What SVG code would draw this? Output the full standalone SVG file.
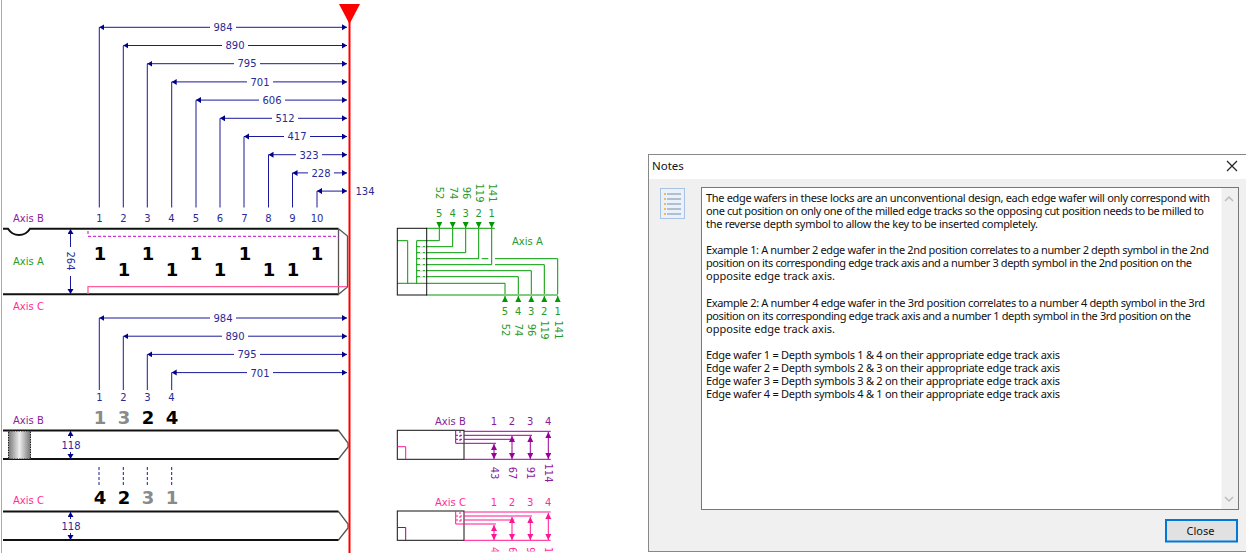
<svg xmlns="http://www.w3.org/2000/svg" width="1246" height="556" viewBox="0 0 1246 556">
<defs>
<marker id="an" markerWidth="7" markerHeight="7" refX="5" refY="3" orient="auto-start-reverse" markerUnits="userSpaceOnUse"><path d="M0 0L5 3L0 6Z" fill="#00008b"/></marker>
<marker id="ag" markerWidth="7" markerHeight="7" refX="6" refY="3" orient="auto-start-reverse" markerUnits="userSpaceOnUse"><path d="M0 0L6 3L0 6Z" fill="#009a00"/></marker>
<marker id="ap" markerWidth="7" markerHeight="7" refX="6" refY="3" orient="auto-start-reverse" markerUnits="userSpaceOnUse"><path d="M0 0L6 3L0 6Z" fill="#990099"/></marker>
<marker id="ak" markerWidth="7" markerHeight="7" refX="6" refY="3" orient="auto-start-reverse" markerUnits="userSpaceOnUse"><path d="M0 0L6 3L0 6Z" fill="#ff1493"/></marker>
<linearGradient id="g" x1="0" x2="1" y1="0" y2="0"><stop offset="0" stop-color="#777"/><stop offset=".5" stop-color="#eee"/><stop offset="1" stop-color="#777"/></linearGradient>
<clipPath id="cl"><rect x="480" y="540" width="90" height="11.5"/></clipPath>
</defs>
<style>
text{font-family:"DejaVu Sans",sans-serif;font-size:10px}
.c{text-anchor:middle}
.n{fill:#2a2a96}.gt{fill:#2a9a2a}.pt{fill:#8b1a9b}.kt{fill:#ff2d96}
.b text{font-weight:700;font-size:18px;text-anchor:middle;fill:#000}
.b text.y{fill:#8a8a8a}
.dn{stroke:#1a1a9b;stroke-width:1;fill:none}
.da{marker-start:url(#an);marker-end:url(#an)}
.k{fill:none;stroke:#111;stroke-width:2}
.ch{fill:none;stroke:#555;stroke-width:1.3}
.gl{stroke:#009a00;stroke-width:1;fill:none}
.pl{stroke:#990099;stroke-width:1;fill:none}
.kl{stroke:#ff1493;stroke-width:1;fill:none}
.bx{fill:none;stroke:#111;stroke-width:1}
.nt text{font-family:"Noto Sans",sans-serif;font-size:11px;fill:#111}
.ui{font-family:"Noto Sans",sans-serif;font-size:11.5px;fill:#111}
</style>
<rect width="1246" height="556" fill="#fff"/>
<line x1="1.5" y1="0" x2="1.5" y2="553" stroke="#aaa"/>

<g id="connectors">
<g class="dn">
<path d="M99.300 207.500V27.300M123.300 207.500V45.500M147.300 207.500V63.700M171.700 207.500V81.900M196 207.500V100.100M220 207.500V118.300M244 207.500V136.500M268.500 207.500V154.700M292.500 207.500V172.900M317 207.500V191.100"/>
<path class="da" d="M99.300 27.300H210M236 27.300H347"/>
<path class="da" d="M123.300 45.500H222M248 45.500H347"/>
<path class="da" d="M147.300 63.700H234M260 63.700H347"/>
<path class="da" d="M171.700 81.900H247M273 81.900H347"/>
<path class="da" d="M196 100.100H259M285 100.100H347"/>
<path class="da" d="M220 118.300H272M298 118.300H347"/>
<path class="da" d="M244 136.500H284M310 136.500H347"/>
<path class="da" d="M268.500 154.700H296M322 154.700H347"/>
<path class="da" d="M292.500 172.900H308M334 172.900H347"/>
<path class="da" d="M317 191.100H347"/>
<path d="M99.300 390V318M123.300 390V336.200M147.300 390V354.400M171.700 390V372.600"/>
<path class="da" d="M99.300 318H210M236 318H347"/>
<path class="da" d="M123.300 336.200H222M248 336.200H347"/>
<path class="da" d="M147.300 354.400H234M260 354.400H347"/>
<path class="da" d="M171.700 372.600H247M273 372.600H347"/>
<path stroke-dasharray="3 2" d="M99 467V486M123.300 467V486M147.300 467V486M171.700 467V486"/>
</g>
</g>

<g id="key-a">
<path class="k" d="M3 228.700H8Q12 235 19 235Q26 235 30 228.700H338.500M338.500 294.300H3"/>
<path class="ch" d="M338.500 228.700L347.500 236V287L338.500 294.300V228.700"/>
<path d="M88 236.300H339M88 231V236" stroke="#c800c8" stroke-dasharray="3 2" fill="none"/>
<path d="M88 294V286.700H347" stroke="#ff5c9c" stroke-width="1.300" fill="none"/>
<g class="dn"><path class="da" d="M70.500 229V247M70.500 276V294"/></g>
<text class="n c" transform="translate(67 261) rotate(90)">264</text>
<text x="13" y="222" class="pt">Axis B</text><text x="13" y="265" class="gt">Axis A</text><text x="13" y="310" class="kt">Axis C</text>
<g class="n c"><text x="99.500" y="222">1</text><text x="123.500" y="222">2</text><text x="147.500" y="222">3</text><text x="171.500" y="222">4</text><text x="196" y="222">5</text><text x="220" y="222">6</text><text x="244.500" y="222">7</text><text x="268.500" y="222">8</text><text x="292.500" y="222">9</text><text x="317" y="222">10</text></g>
<g class="b"><text x="100" y="260">1</text><text x="124" y="276">1</text><text x="148" y="260">1</text><text x="172" y="276">1</text><text x="196" y="260">1</text><text x="220" y="276">1</text><text x="245" y="260">1</text><text x="269" y="276">1</text><text x="293" y="276">1</text><text x="317" y="260">1</text></g>
</g>

<g id="dims-top" class="n c">
<text x="223" y="31">984</text><text x="235" y="49">890</text><text x="247" y="67">795</text><text x="260" y="85.500">701</text><text x="272" y="104">606</text><text x="285" y="122">512</text><text x="297" y="140">417</text><text x="309" y="158.500">323</text><text x="321" y="176.500">228</text><text x="365" y="195">134</text>
<text x="223" y="322">984</text><text x="235" y="340">890</text><text x="247" y="358">795</text><text x="260" y="376.500">701</text>
<text x="99.500" y="401">1</text><text x="123.500" y="401">2</text><text x="147.500" y="401">3</text><text x="171.500" y="401">4</text>
</g>

<g id="key-b">
<path class="ch" d="M338.500 430.500L348 443V447L338.500 459"/>
<path class="k" d="M3 430.500H338.500M3 459H338.500"/>
<rect x="8.500" y="431" width="22" height="28" fill="url(#g)" stroke="#222" stroke-dasharray="1.500 1"/>
<g class="dn"><path class="da" d="M70.500 431V438M70.500 452V459"/></g>
<text x="71" y="449" class="n c">118</text>
<text x="13" y="424" class="pt">Axis B</text>
<g class="b"><text x="100" y="423.500" class="y">1</text><text x="124" y="423.500" class="y">3</text><text x="148" y="423.500">2</text><text x="172" y="423.500">4</text></g>
</g>

<g id="key-c">
<path class="ch" d="M338.500 511.500L348 524V528L338.500 540"/>
<path class="k" d="M3 511.500H338.500M3 540H338.500"/>
<g class="dn"><path class="da" d="M70.500 512V519M70.500 533V540"/></g>
<text x="71" y="530" class="n c">118</text>
<text x="13" y="504" class="kt">Axis C</text>
<g class="b"><text x="100" y="504">4</text><text x="124" y="504">2</text><text x="148" y="504" class="y">3</text><text x="172" y="504" class="y">1</text></g>
</g>

<g id="datum">
<line x1="349.500" y1="20" x2="349.500" y2="553" stroke="#f00" stroke-width="2"/>
<path d="M339 4H360L349.500 24Z" fill="#f00"/>
</g>

<g id="section-a">
<path class="gl" d="M397 240.700H407.700V283.300M397 283.300H505V294M416.700 240.700V283.300"/>
<path class="gl" d="M426 228.300H494.700M426 295H558"/>
<path class="gl" d="M416.700 240.700H439.300V229M416.700 246.700H452.700V229M416.700 252.700H465.700V229M416.700 258.700H478.700V229M416.700 264.700H491.700V229M416.700 270.700H531.300V294M416.700 276.700H518.300V294"/>
<path class="gl" d="M481.700 258.700H488.300M495 258.700H557.700V294M495 264.700H544.300V294"/>
<g class="gl">
<path d="M439.300 222V228" marker-end="url(#ag)"/><path d="M452.700 222V228" marker-end="url(#ag)"/><path d="M465.700 222V228" marker-end="url(#ag)"/><path d="M478.700 222V228" marker-end="url(#ag)"/><path d="M491.700 222V228" marker-end="url(#ag)"/>
<path d="M505 302V296" marker-end="url(#ag)"/><path d="M518.300 302V296" marker-end="url(#ag)"/><path d="M531.300 302V296" marker-end="url(#ag)"/><path d="M544.300 302V296" marker-end="url(#ag)"/><path d="M557.700 302V296" marker-end="url(#ag)"/>
</g>
<rect class="bx" x="397.300" y="228.300" width="29.400" height="66.700"/>
<path d="M418 246.700H426M418 252.700H426M418 258.700H426M418 264.700H426M418 270.700H426M418 276.700H426" stroke="#fff" stroke-dasharray="3 2" stroke-dashoffset="-2" fill="none"/>
<g class="gt c"><text x="439.300" y="217">5</text><text x="452.700" y="217">4</text><text x="465.700" y="217">3</text><text x="478.700" y="217">2</text><text x="491.700" y="217">1</text>
<text x="505" y="315">5</text><text x="518.300" y="315">4</text><text x="531.300" y="315">3</text><text x="544.300" y="315">2</text><text x="557.700" y="315">1</text>
<text transform="translate(436 193) rotate(90)">52</text><text transform="translate(449.500 193) rotate(90)">74</text><text transform="translate(462.500 193) rotate(90)">96</text><text transform="translate(475.500 193) rotate(90)">119</text><text transform="translate(488.500 193) rotate(90)">141</text>
<text transform="translate(502 330) rotate(90)">52</text><text transform="translate(515 330) rotate(90)">74</text><text transform="translate(528 330) rotate(90)">96</text><text transform="translate(541 330) rotate(90)">119</text><text transform="translate(554.500 330) rotate(90)">141</text></g>
<text x="512" y="245" class="gt">Axis A</text>
</g>

<g id="section-b">
<rect class="bx" x="397.300" y="430.300" width="66.700" height="29"/>
<path d="M397.300 446.700H405.700V459" stroke="#ff1493" fill="none"/>
<path class="pl" d="M464 443.300H455.700V430.300M464 431.300H550.700M464 435.300H532M464 439.300H514.300M464 443.300H496M464 459.300H550.700"/>
<path class="pl" d="M456 435.300H464M456 439.300H464M460 431V443" stroke-dasharray="2 2"/>
<g class="pl"><path d="M494 444V459" marker-start="url(#ap)" marker-end="url(#ap)"/><path d="M512 436V459" marker-start="url(#ap)" marker-end="url(#ap)"/><path d="M530.300 436V459" marker-start="url(#ap)" marker-end="url(#ap)"/><path d="M548.300 432V459" marker-start="url(#ap)" marker-end="url(#ap)"/></g>
<text x="435" y="424.500" class="pt">Axis B</text>
<g class="pt c"><text x="494" y="424.500">1</text><text x="512" y="424.500">2</text><text x="530.300" y="424.500">3</text><text x="548.300" y="424.500">4</text>
<text transform="translate(490.500 473) rotate(90)">43</text><text transform="translate(508.500 473) rotate(90)">67</text><text transform="translate(526.800 473) rotate(90)">91</text><text transform="translate(544.800 473) rotate(90)">114</text></g>
</g>

<g id="section-c">
<rect class="bx" x="397.300" y="511" width="66.700" height="29.300"/>
<path d="M397.300 527.500H405.700V540" stroke="#990099" fill="none"/>
<path class="kl" d="M464 524H455.700V511M464 512H550.700M464 516H532M464 520H514.300M464 524H496M464 540.300H550.700"/>
<path class="kl" d="M456 516H464M456 520H464M460 512V524" stroke-dasharray="2 2"/>
<g class="kl"><path d="M494 525V540" marker-start="url(#ak)" marker-end="url(#ak)"/><path d="M512 517V540" marker-start="url(#ak)" marker-end="url(#ak)"/><path d="M530.300 517V540" marker-start="url(#ak)" marker-end="url(#ak)"/><path d="M548.300 513V540" marker-start="url(#ak)" marker-end="url(#ak)"/></g>
<text x="435" y="505.500" class="kt">Axis C</text>
<g class="kt c"><text x="494" y="505.500">1</text><text x="512" y="505.500">2</text><text x="530.300" y="505.500">3</text><text x="548.300" y="505.500">4</text></g>
<g clip-path="url(#cl)" class="kt"><text transform="translate(490.500 547) rotate(90)">4</text><text transform="translate(508.500 547) rotate(90)">6</text><text transform="translate(526.800 547) rotate(90)">9</text><text transform="translate(544.800 547) rotate(90)">1</text></g>
</g>

<g id="notes-dialog">
<rect x="648.500" y="154.500" width="600" height="397" fill="#f0f0f0" stroke="#888"/>
<rect x="649" y="155" width="600" height="24" fill="#fff"/>
<text x="652" y="170" class="ui">Notes</text>
<path d="M1227 161L1237 171M1237 161L1227 171" stroke="#222" stroke-width="1.200"/>
<rect x="660.500" y="188.500" width="24" height="30" fill="#eaf1fa" stroke="#a9c3e4"/>
<path d="M667 194H681M667 199H681M667 204H681M667 209H681M667 214H681" stroke="#9db0c0" stroke-width="1.500"/>
<path d="M664 194h2M664 199h2M664 204h2M664 209h2M664 214h2" stroke="#f5a623" stroke-width="1.500"/>
<rect x="701.500" y="187.500" width="537" height="322" fill="#fff" stroke="#777"/>
<rect x="1221.500" y="188" width="16.500" height="321" fill="#f0f0f0"/>
<path d="M1225 201L1229 197L1233 201M1225 497L1229 501L1233 497" stroke="#bbb" stroke-width="1.500" fill="none"/>
<g class="nt">
<text x="706" y="202" textLength="504">The edge wafers in these locks are an unconventional design, each edge wafer will only correspond with</text>
<text x="706" y="215" textLength="498">one cut position on only one of the milled edge tracks so the opposing cut position needs to be milled to</text>
<text x="706" y="228" textLength="332">the reverse depth symbol to allow the key to be inserted completely.</text>
<text x="706" y="254" textLength="503">Example 1: A number 2 edge wafer in the 2nd position correlates to a number 2 depth symbol in the 2nd</text>
<text x="706" y="267" textLength="486">position on its corresponding edge track axis and a number 3 depth symbol in the 2nd position on the</text>
<text x="706" y="280" textLength="129">opposite edge track axis.</text>
<text x="706" y="307" textLength="499">Example 2: A number 4 edge wafer in the 3rd position correlates to a number 4 depth symbol in the 3rd</text>
<text x="706" y="320" textLength="485">position on its corresponding edge track axis and a number 1 depth symbol in the 3rd position on the</text>
<text x="706" y="333" textLength="129">opposite edge track axis.</text>
<text x="706" y="359" textLength="354">Edge wafer 1 = Depth symbols 1 &amp; 4 on their appropriate edge track axis</text>
<text x="706" y="372" textLength="354">Edge wafer 2 = Depth symbols 2 &amp; 3 on their appropriate edge track axis</text>
<text x="706" y="385" textLength="354">Edge wafer 3 = Depth symbols 3 &amp; 2 on their appropriate edge track axis</text>
<text x="706" y="398" textLength="354">Edge wafer 4 = Depth symbols 4 &amp; 1 on their appropriate edge track axis</text>
</g>
<rect x="1166" y="520" width="71" height="21.500" fill="#e1e1e1" stroke="#0078d7" stroke-width="2"/>
<text x="1200.500" y="535" text-anchor="middle" class="ui" style="font-size:11px">Close</text>
</g>
</svg>
